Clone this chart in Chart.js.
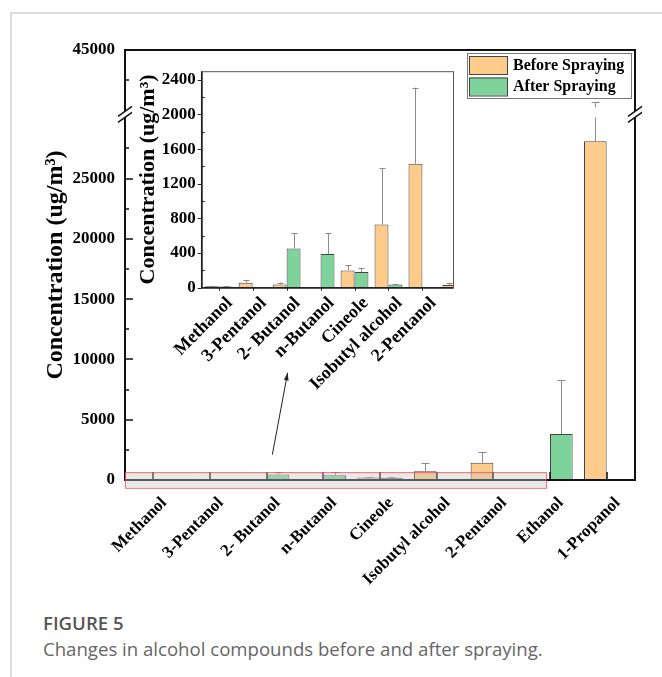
<!DOCTYPE html>
<html>
<head>
<meta charset="utf-8">
<script src="https://cdn.jsdelivr.net/npm/chart.js@4.4.1/dist/chart.umd.min.js"></script>
<style>
  html, body { margin: 0; padding: 0; background: #fff; }
  #page { position: relative; width: 662px; height: 677px; overflow: hidden; }
  #edge { position: absolute; left: 10px; top: 12px; right: 0; bottom: 0; border-left: 2px solid #dcdcdc; border-top: 2px solid #dcdcdc; }
  #mainChart { position: absolute; left: 0; top: 0; }
  #insetChart { position: absolute; left: 120px; top: 55px; }
  .figLabel { position: absolute; left: 43px; top: 611px; font: 600 18.6px 'Open Sans', sans-serif; color: #555; line-height: 24px; }
  .figCaption { position: absolute; left: 43px; top: 637px; font: 400 18.6px 'Open Sans', sans-serif; color: #666; line-height: 24px; }
</style>
</head>
<body>
<div id="page">
  <div id="edge"></div>
  <canvas id="mainChart" width="662" height="600"></canvas>
  <canvas id="insetChart" width="360" height="345"></canvas>
  <div class="figLabel">FIGURE 5</div>
  <div class="figCaption">Changes in alcohol compounds before and after spraying.</div>
</div>
<script>
'use strict'

//카테고리
const categories = ['Methanol', '3-Pentanol', '2- Butanol', 'n-Butanol', 'Cineole', 'Isobutyl alcohol', '2-Pentanol', 'Ethanol', '1-Propanol'];
//분사 전 / 후 농도와 오차
const beforeValues = [17, 57, 38, 3, 200, 729, 1431, 30, 28100];
const beforeErrors = [6, 30, 22, 0, 64, 649, 879, 25, 12600];
const afterValues = [15, 4, 453, 389, 181, 38, 5, 3810, 0];
const afterErrors = [5, 0, 174, 245, 45, 8, 0, 4470, 0];
//메인 축 눈금 (30000 ~ 40000 구간 생략)
const mainTicks = [0, 5000, 10000, 15000, 20000, 25000, 45000];
const mainMinorTicks = [2500, 7500, 12500, 17500, 22500, 27500, 42500];
const axisBreak = [30000, 40000];
//인셋 축 눈금
const insetTicks = [0, 400, 800, 1200, 1600, 2000, 2400];
const insetMinorTicks = [200, 600, 1000, 1400, 1800, 2200];
const insetCount = 7;

//==================================================================================================

const serif = "'Liberation Serif', 'Times New Roman', serif";
const beforeColor = '#FECB8B';
const afterColor = '#7ED39B';
const barBorder = '#444';
const BREAK_GAP = 8;

/*생략 구간이 있는 y축 */
class BrokenScale extends Chart.LinearScale {
    getPixelForValue(value){
        const lo = axisBreak[0], hi = axisBreak[1];
        const k = (this.bottom - this.top - BREAK_GAP) / ((lo - this.min) + (this.max - hi));
        if(value <= lo)
            return this.bottom - (value - this.min) * k;
        const loPx = this.bottom - (lo - this.min) * k;
        if(value >= hi)
            return loPx - BREAK_GAP - (value - hi) * k;
        return loPx - BREAK_GAP * (value - lo) / (hi - lo);
    }
    getValueForPixel(pixel){
        const lo = axisBreak[0], hi = axisBreak[1];
        const k = (this.bottom - this.top - BREAK_GAP) / ((lo - this.min) + (this.max - hi));
        const loPx = this.bottom - (lo - this.min) * k;
        if(pixel >= loPx)
            return this.min + (this.bottom - pixel) / k;
        if(pixel <= loPx - BREAK_GAP)
            return hi + (loPx - BREAK_GAP - pixel) / k;
        return lo + (loPx - pixel) / BREAK_GAP * (hi - lo);
    }
}
BrokenScale.id = 'broken';
BrokenScale.defaults = Chart.LinearScale.defaults;
Chart.register(BrokenScale);

//막대값 읽기 (숫자 또는 {x, y})
function barValue(d){
    return (typeof d === 'object') ? d.y : d;
}

/*오차 막대 */
const errorBars = {
    id: 'errorBars',
    afterDatasetsDraw(chart, args, opts){
        const { ctx, chartArea: a } = chart;
        const y = chart.scales.y;
        const broken = y instanceof BrokenScale;
        ctx.save();
        ctx.beginPath();
        ctx.rect(a.left, a.top, a.right - a.left, a.bottom - a.top);
        ctx.clip();
        ctx.strokeStyle = '#8a8a8a';
        ctx.lineWidth = 1;
        chart.data.datasets.forEach((ds, di) => {
            const meta = chart.getDatasetMeta(di);
            meta.data.forEach((bar, i) => {
                const err = ds.errors[i];
                if(!err)
                    return;
                const v = barValue(ds.data[i]);
                const yTop = y.getPixelForValue(v + err);
                const x = Math.round(bar.x) + 0.5;
                ctx.beginPath();
                if(broken && v < axisBreak[0] && v + err > axisBreak[1]){
                    const g1 = y.getPixelForValue(axisBreak[0]);
                    const g2 = y.getPixelForValue(axisBreak[1]);
                    ctx.moveTo(x, bar.y); ctx.lineTo(x, g1 - 1);
                    ctx.moveTo(x, g2 - 3); ctx.lineTo(x, yTop);
                }
                else{
                    ctx.moveTo(x, bar.y); ctx.lineTo(x, yTop);
                }
                ctx.moveTo(x - opts.cap / 2, Math.round(yTop) + 0.5);
                ctx.lineTo(x + opts.cap / 2, Math.round(yTop) + 0.5);
                ctx.stroke();
            });
        });
        ctx.restore();
    }
};

//생략 표시 (빗금 두 줄)
function drawBreak(ctx, px, yc){
    ctx.fillStyle = '#fff';
    ctx.beginPath();
    ctx.moveTo(px - 7, yc - 3 + 5);
    ctx.lineTo(px + 7, yc - 3 - 5);
    ctx.lineTo(px + 7, yc + 3 - 5);
    ctx.lineTo(px - 7, yc + 3 + 5);
    ctx.closePath();
    ctx.fill();
    ctx.beginPath();
    ctx.moveTo(px - 7, yc - 3 + 5); ctx.lineTo(px + 7, yc - 3 - 5);
    ctx.moveTo(px - 7, yc + 3 + 5); ctx.lineTo(px + 7, yc + 3 - 5);
    ctx.stroke();
}

/*메인 프레임, 눈금, 생략 표시 */
const mainFrame = {
    id: 'mainFrame',
    afterDatasetsDraw(chart){
        const { ctx, chartArea: a, scales: { x, y } } = chart;
        ctx.save();
        ctx.strokeStyle = '#111';
        ctx.lineWidth = 2;
        ctx.strokeRect(a.left, a.top, a.right - a.left, a.bottom - a.top);
        //y 눈금 (안쪽)
        ctx.lineWidth = 1.5;
        ctx.beginPath();
        mainTicks.forEach((v) => {
            const py = Math.round(y.getPixelForValue(v));
            ctx.moveTo(a.left, py); ctx.lineTo(a.left + 8, py);
        });
        mainMinorTicks.forEach((v) => {
            const py = Math.round(y.getPixelForValue(v));
            ctx.moveTo(a.left, py); ctx.lineTo(a.left + 4, py);
        });
        //x 눈금 (안쪽)
        categories.forEach((c, i) => {
            const px = Math.round(x.getPixelForValue(i));
            ctx.moveTo(px, a.bottom); ctx.lineTo(px, a.bottom - 8);
        });
        ctx.stroke();
        //생략 표시
        const yc = (y.getPixelForValue(axisBreak[0]) + y.getPixelForValue(axisBreak[1])) / 2;
        drawBreak(ctx, a.left, yc);
        drawBreak(ctx, a.right, yc);
        ctx.restore();
    }
};

/*확대 영역 표시 상자와 화살표 */
const zoomMark = {
    id: 'zoomMark',
    afterDraw(chart){
        const { ctx, scales: { x, y } } = chart;
        const x0 = x.getPixelForValue(-0.5), x1 = x.getPixelForValue(6.93);
        const y0 = y.getPixelForValue(650), y1 = y.getPixelForValue(-650);
        ctx.save();
        ctx.fillStyle = 'rgba(200,200,200,0.4)';
        ctx.fillRect(x0, y0, x1 - x0, y1 - y0);
        ctx.strokeStyle = 'rgba(255,60,60,0.75)';
        ctx.lineWidth = 1;
        ctx.strokeRect(x0 + 0.5, y0 + 0.5, x1 - x0, y1 - y0);
        //화살표
        const ax = x.getPixelForValue(2.1), ay = y.getPixelForValue(2100);
        const bx = x.getPixelForValue(2.37), by = y.getPixelForValue(8900);
        ctx.strokeStyle = '#222';
        ctx.beginPath();
        ctx.moveTo(ax, ay); ctx.lineTo(bx, by);
        ctx.stroke();
        const ang = Math.atan2(by - ay, bx - ax);
        ctx.fillStyle = '#222';
        ctx.beginPath();
        ctx.moveTo(bx, by);
        ctx.lineTo(bx - 8 * Math.cos(ang - 0.3), by - 8 * Math.sin(ang - 0.3));
        ctx.lineTo(bx - 8 * Math.cos(ang + 0.3), by - 8 * Math.sin(ang + 0.3));
        ctx.closePath();
        ctx.fill();
        ctx.restore();
    }
};

/*범례 (플롯 안 오른쪽 위) */
const boxLegend = {
    id: 'boxLegend',
    afterDraw(chart){
        const { ctx, chartArea: a } = chart;
        const w = 164, h = 45;
        const x0 = a.right - w - 4, y0 = a.top + 3;
        ctx.save();
        ctx.fillStyle = '#fff';
        ctx.fillRect(x0, y0, w, h);
        ctx.strokeStyle = '#777';
        ctx.lineWidth = 1;
        ctx.strokeRect(x0 + 0.5, y0 + 0.5, w, h);
        ctx.font = 'bold 16px ' + serif;
        ctx.textBaseline = 'middle';
        chart.data.datasets.forEach((ds, i) => {
            const sy = y0 + 3 + i * 21.5;
            ctx.fillStyle = ds.backgroundColor;
            ctx.fillRect(x0 + 2.5, sy, 38, 18);
            ctx.strokeStyle = '#444';
            ctx.strokeRect(x0 + 2.5, sy + 0.5, 38, 18);
            ctx.fillStyle = '#000';
            ctx.fillText(ds.label, x0 + 46, sy + 9.5);
        });
        ctx.restore();
    }
};

/*인셋 프레임과 눈금 */
const insetFrame = {
    id: 'insetFrame',
    afterDatasetsDraw(chart){
        const { ctx, chartArea: a, scales: { x, y } } = chart;
        ctx.save();
        ctx.strokeStyle = '#555';
        ctx.lineWidth = 1;
        ctx.strokeRect(a.left + 0.5, a.top + 0.5, a.right - a.left, a.bottom - a.top);
        ctx.strokeStyle = '#222';
        ctx.lineWidth = 1.5;
        ctx.beginPath();
        ctx.moveTo(a.left, a.top); ctx.lineTo(a.left, a.bottom); ctx.lineTo(a.right, a.bottom);
        ctx.stroke();
        ctx.lineWidth = 1;
        ctx.beginPath();
        insetTicks.forEach((v) => {
            const py = Math.round(y.getPixelForValue(v)) + 0.5;
            ctx.moveTo(a.left - 4, py); ctx.lineTo(a.left, py);
        });
        insetMinorTicks.forEach((v) => {
            const py = Math.round(y.getPixelForValue(v)) + 0.5;
            ctx.moveTo(a.left, py); ctx.lineTo(a.left + 3, py);
        });
        for(let i = 0; i < insetCount; i++){
            const px = Math.round(x.getPixelForValue(i)) + 0.5;
            ctx.moveTo(px, a.bottom); ctx.lineTo(px, a.bottom + 3);
        }
        ctx.stroke();
        ctx.restore();
    }
};

//==================================================================================================

const tickFont = { family: serif, weight: 'bold', size: 17 };

new Chart(document.getElementById('mainChart'), {
    type: 'bar',
    data: {
        labels: categories,
        datasets: [
            { label: 'Before Spraying', data: beforeValues, errors: beforeErrors,
              backgroundColor: beforeColor, borderColor: barBorder, borderWidth: 1 },
            { label: 'After Spraying', data: afterValues, errors: afterErrors,
              backgroundColor: afterColor, borderColor: barBorder, borderWidth: 1 }
        ]
    },
    options: {
        responsive: false,
        animation: false,
        layout: { padding: { left: 30, top: 50, right: 27, bottom: 0 } },
        datasets: { bar: { categoryPercentage: 0.8, barPercentage: 1 } },
        plugins: {
            legend: { display: false },
            tooltip: { enabled: false },
            errorBars: { cap: 8 }
        },
        scales: {
            x: {
                grid: { display: false, drawTicks: false },
                border: { display: false },
                ticks: { font: { family: serif, weight: 'bold', size: 17 }, color: '#000', autoSkip: false,
                         minRotation: 45, maxRotation: 45, padding: 13, labelOffset: 11 },
                afterFit: (s) => { s.height = 120; }
            },
            y: {
                type: 'broken',
                min: 0,
                max: 45000,
                grid: { display: false, drawTicks: false },
                border: { display: false },
                afterBuildTicks: (s) => { s.ticks = mainTicks.map((v) => ({ value: v })); },
                ticks: { font: tickFont, color: '#000', padding: 10, callback: (v) => String(v) },
                title: { display: true, text: 'Concentration (ug/m³)', color: '#000',
                         font: { family: serif, weight: 'bold', size: 24 }, padding: { top: 11, bottom: 0 } },
                afterFit: (s) => { s.width = 95; }
            }
        }
    },
    plugins: [errorBars, mainFrame, zoomMark, boxLegend]
});

//인셋: 앞쪽 카테고리만 확대
function insetPoints(values){
    return values.slice(0, insetCount + 1).map((v, i) => ({ x: i, y: v }));
}

new Chart(document.getElementById('insetChart'), {
    type: 'bar',
    data: {
        datasets: [
            { label: 'Before Spraying', data: insetPoints(beforeValues), errors: beforeErrors,
              backgroundColor: beforeColor, borderColor: barBorder, borderWidth: 1 },
            { label: 'After Spraying', data: insetPoints(afterValues), errors: afterErrors,
              backgroundColor: afterColor, borderColor: barBorder, borderWidth: 1 }
        ]
    },
    options: {
        responsive: false,
        animation: false,
        layout: { padding: { left: 12, top: 12, right: 27, bottom: 0 } },
        datasets: { bar: { categoryPercentage: 0.82, barPercentage: 1 } },
        plugins: {
            legend: { display: false },
            tooltip: { enabled: false },
            errorBars: { cap: 6 }
        },
        scales: {
            x: {
                type: 'linear',
                offset: false,
                min: -0.5,
                max: 6.9,
                grid: { display: false, drawTicks: false },
                border: { display: false },
                afterBuildTicks: (s) => { s.ticks = categories.slice(0, insetCount).map((c, i) => ({ value: i })); },
                ticks: { font: { family: serif, weight: 'bold', size: 18 }, color: '#000', autoSkip: false,
                         minRotation: 45, maxRotation: 45, padding: 5, labelOffset: 11,
                         callback: (v) => categories[v] },
                afterFit: (s) => { s.height = 112.3; }
            },
            y: {
                min: 0,
                max: 2500,
                grid: { display: false, drawTicks: false },
                border: { display: false },
                afterBuildTicks: (s) => { s.ticks = insetTicks.map((v) => ({ value: v })); },
                ticks: { font: tickFont, color: '#000', padding: 6, callback: (v) => String(v) },
                title: { display: true, text: 'Concentration (ug/m³)', color: '#000',
                         font: { family: serif, weight: 'bold', size: 22 }, padding: { top: 3, bottom: 0 } },
                afterFit: (s) => { s.width = 69.7; }
            }
        }
    },
    plugins: [errorBars, insetFrame]
});
</script>
</body>
</html>
